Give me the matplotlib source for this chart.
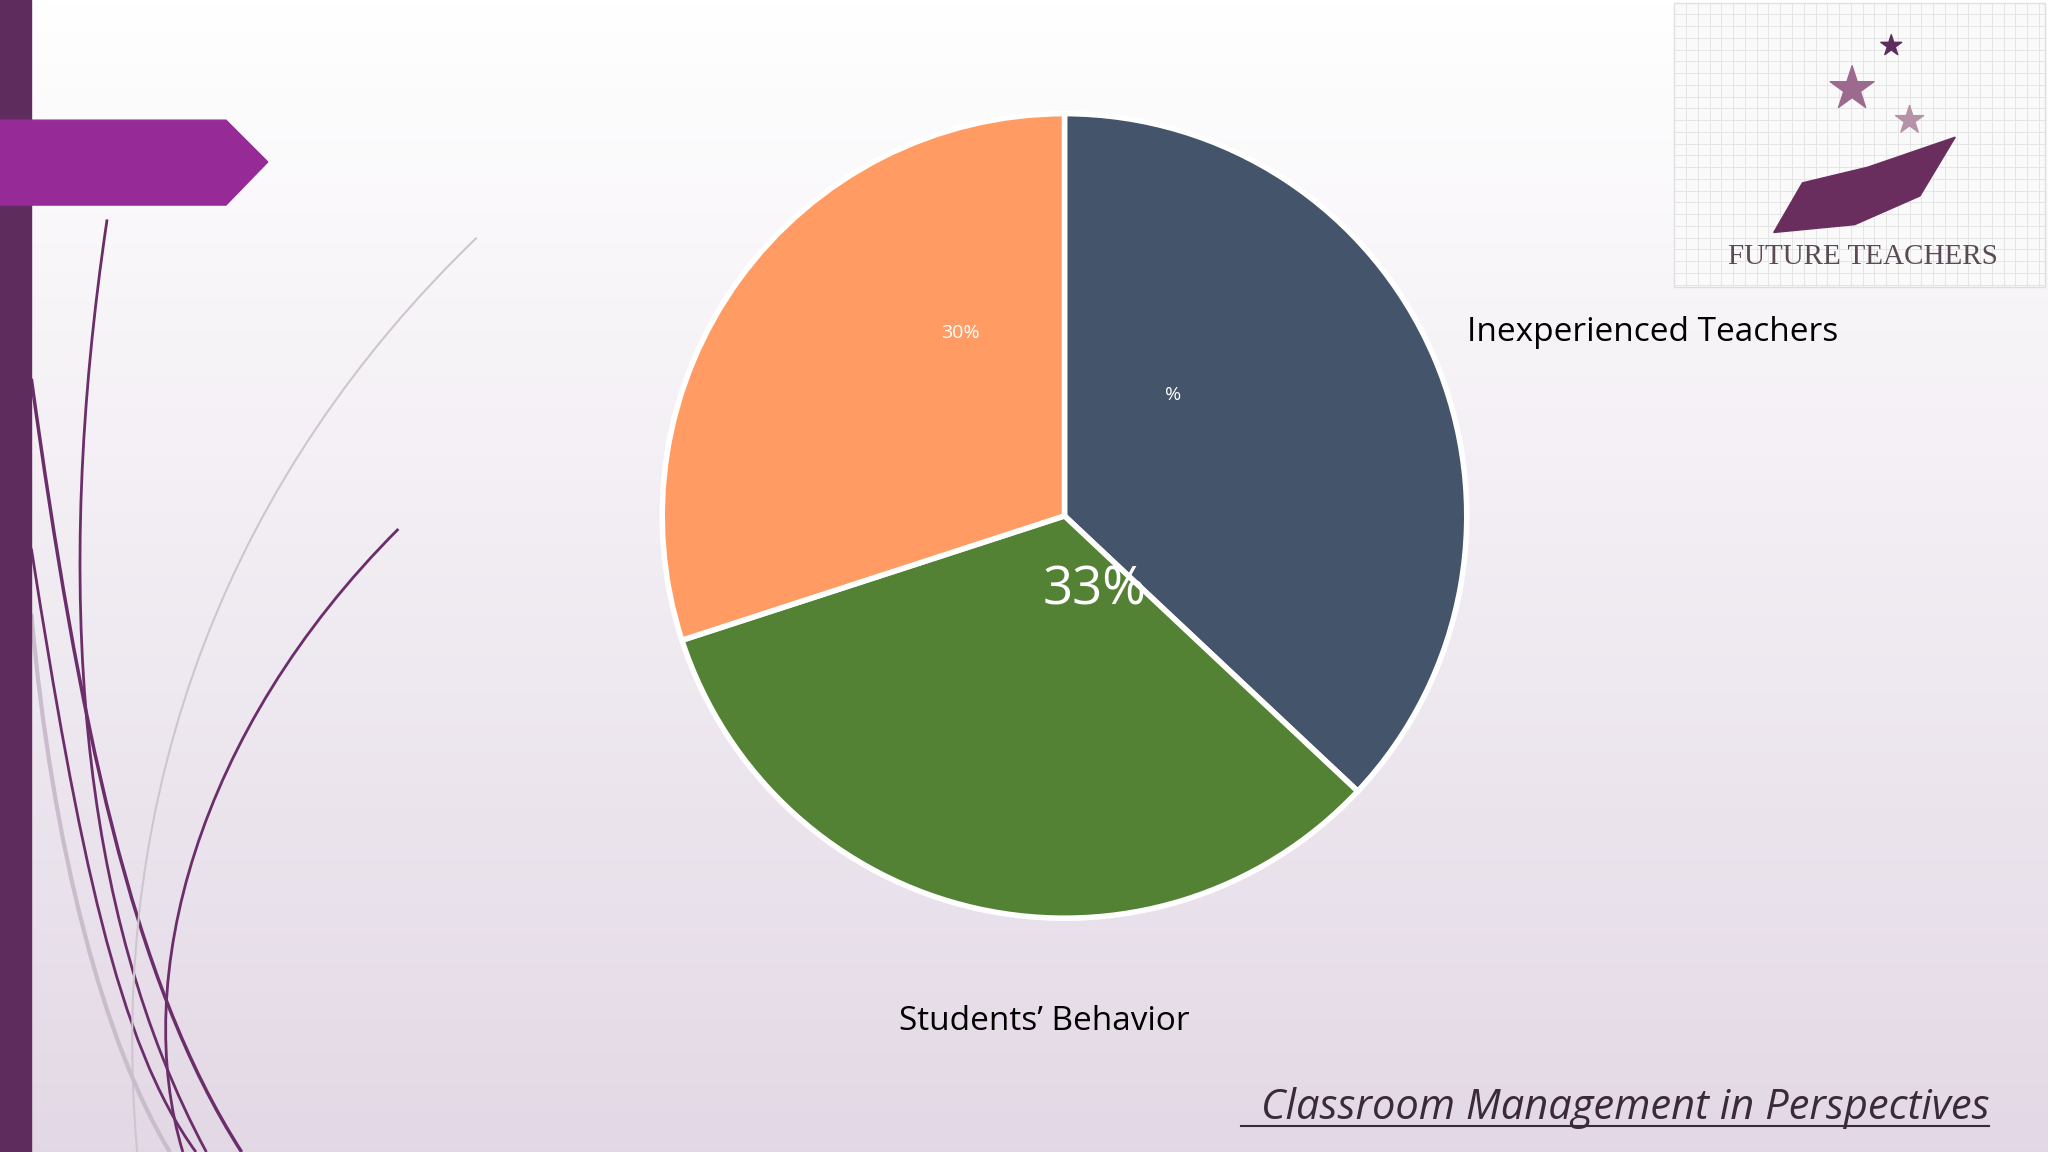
import matplotlib
matplotlib.use("Agg")
import matplotlib.pyplot as plt
import numpy as np
from matplotlib.patches import Polygon, Rectangle
from matplotlib.path import Path
from matplotlib.patches import PathPatch

categories = ["Inexperienced Teachers", "Students\u2019 Behavior", ""]
values = [37, 33, 30]
value_labels = ["%", "33%", "30%"]
colors = ["#44546A", "#548235", "#FF9B63"]

W, H = 2048, 1152
fig = plt.figure(figsize=(W/100, H/100), dpi=100)
def fx(x): return x/1568.0
def fy(y): return 1 - y/882.0

# background
bg = fig.add_axes([0, 0, 1, 1]); bg.set_axis_off()
bg.set_xlim(0, 1568); bg.set_ylim(882, 0)
grad = np.linspace(0, 1, 256)[:, None]
c1 = np.array([1, 1, 1]); c2 = np.array([0.89, 0.85, 0.90])
img = c1 + (c2 - c1) * grad[..., None] * np.ones((1, 2, 1))
bg.imshow(img, extent=[0, 1568, 882, 0], aspect='auto', zorder=0)
bg.add_patch(Rectangle((0, 0), 24, 882, color="#5E2D5E", zorder=2))
bg.add_patch(Polygon([(0, 92), (173, 92), (205, 124), (173, 157), (0, 157)], closed=True, color="#962A96", zorder=3))

def curve(pts, color, lw):
    codes = [Path.MOVETO] + [Path.CURVE4]*(len(pts)-1)
    bg.add_patch(PathPatch(Path(pts, codes), fc='none', ec=color, lw=lw, zorder=1))
curve([(82, 168), (40, 450), (60, 700), (158, 882)], "#6B2E6B", 2)
curve([(24, 290), (60, 550), (100, 750), (185, 882)], "#6B2E6B", 2.5)
curve([(24, 420), (60, 650), (90, 800), (150, 882)], "#6B2E6B", 2)
curve([(305, 405), (150, 560), (100, 750), (140, 882)], "#6B2E6B", 2)
curve([(365, 182), (180, 360), (80, 600), (105, 882)], "#CFC5D0", 1.5)
curve([(24, 470), (40, 650), (80, 800), (130, 882)], "#C9BCCB", 3)

# logo
bg.add_patch(Rectangle((1282, 2), 284, 218, fc="#FAFAFA", ec="#DDDDDD", zorder=2))
for gx in np.arange(1282, 1566, 9):
    bg.plot([gx, gx], [2, 220], color="#E2E2E2", lw=0.6, zorder=2)
for gy in np.arange(2, 220, 9):
    bg.plot([1282, 1566], [gy, gy], color="#E2E2E2", lw=0.6, zorder=2)
bg.scatter([1448, 1418, 1462], [35, 68, 92], marker='*', s=[250, 1100, 450],
           color=["#5E2D5E", "#9B6A8E", "#B592A8"], zorder=3)
bg.add_patch(Polygon([(1358, 178), (1380, 140), (1430, 128), (1497, 105), (1470, 150), (1420, 172)],
                     closed=True, color="#6A2E5E", zorder=3))
bg.text(1426, 197, "FUTURE TEACHERS", ha='center', va='center', fontsize=21, color="#5A4A55",
        family="Liberation Serif", zorder=4)

# pie
cx, cy, r = 815/1568, 1-395/882, 308/882
ax = fig.add_axes([cx - r*H/W, cy - r, 2*r*H/W, 2*r])
ax.pie(values, colors=colors, startangle=90, counterclock=False, radius=1,
       wedgeprops=dict(edgecolor="white", linewidth=4))
ax.set_xlim(-1, 1); ax.set_ylim(-1, 1); ax.set_axis_off()
ax.text(0.27, 0.30, value_labels[0], color="white", fontsize=14, ha='center', va='center', family="Open Sans")
ax.text(0.075, -0.185, value_labels[1], color="white", fontsize=38, ha='center', va='center', family="Open Sans")
ax.text(-0.26, 0.455, value_labels[2], color="white", fontsize=14, ha='center', va='center', family="Open Sans")
ax.text(1.0, 0.455, categories[0], color="black", fontsize=24, ha='left', va='center', clip_on=False,
        family="Open Sans", weight='medium')
ax.text(-0.05, -1.256, categories[1], color="black", fontsize=24, ha='center', va='center', clip_on=False,
        family="Open Sans", weight='medium')

fig.text(fx(1523), fy(848), "Classroom Management in Perspectives", ha='right', va='center',
         fontsize=30, style='italic', color="#3A2A3A", family="Open Sans")
bg.plot([950, 1523], [862, 862], color="#3A2A3A", lw=1.5, zorder=5)

fig.savefig("out.png", dpi=100)
